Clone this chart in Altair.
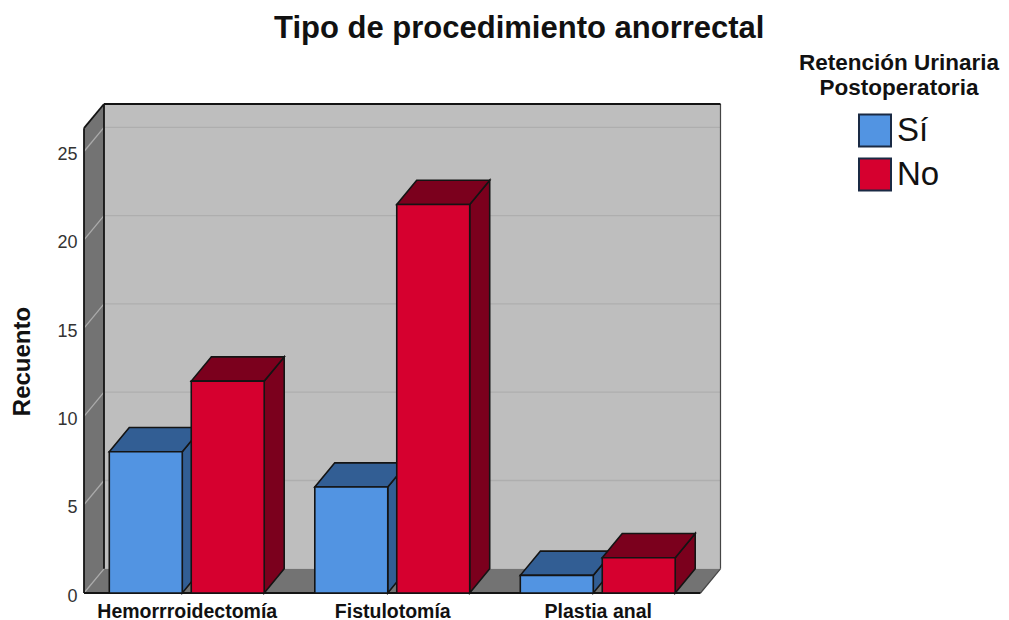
import altair as alt
import pandas as pd

categories = ["Hemorrroidectomía", "Fistulotomía", "Plastia anal"]
series = ["Sí", "No"]
si_values = [8, 6, 1]
no_values = [12, 22, 2]
y_ticks = [0, 5, 10, 15, 20, 25]

front_colors = ["#5294E2", "#D6002F"]
dark_colors = ["#325E94", "#7B001D"]
EDGE = "#141414"

# 3D geometry in data units
DX = 0.0973      # depth along category axis
DY = 1.37        # depth along count axis
BAR = 0.355      # bar width
GAP = 0.0438     # gap between the two bars
X0, X1 = -0.5, 2.5
TOP = 26.32
XS = alt.Scale(domain=[X0, X1 + DX], nice=False, zero=False)
YS = alt.Scale(domain=[0, TOP + DY], nice=False, zero=False)
x_axis = alt.Axis(
    values=[0, 1, 2],
    labelExpr="[" + ",".join(f"'{c}'" for c in categories) + "][datum.value]",
    title=None, domain=False, ticks=False, grid=False,
    labelFont="Liberation Sans", labelFontSize=19.5, labelFontWeight="bold",
    labelColor="#111111", labelPadding=18, labelBaseline="middle", labelAngle=0,
)
y_axis = alt.Axis(
    values=y_ticks, title="Recuento", domain=False, ticks=False, grid=False,
    labelFont="Liberation Sans", labelFontSize=18, labelColor="#333333",
    labelPadding=7, labelOffset=3,
    titleFont="Liberation Sans", titleFontSize=24, titleFontWeight="bold",
    titleColor="#111111", titleX=-50, titleY=257, titleAnchor="middle",
    titleAlign="center",
)


def X(field="x"):
    return alt.X(f"{field}:Q", scale=XS, axis=x_axis, title=None)


def Y(field="y"):
    return alt.Y(f"{field}:Q", scale=YS, axis=y_axis, title="Recuento")


def rules(rows, color, width):
    df = pd.DataFrame(rows, columns=["x", "x2", "y", "y2"])
    return alt.Chart(df).mark_rule(color=color, strokeWidth=width).encode(
        x=X(), x2="x2:Q", y=Y(), y2="y2:Q"
    )


# Walls and floor
wall = alt.Chart(pd.DataFrame([{"x": X0 + DX, "x2": X1 + DX, "y": DY, "y2": TOP + DY}])).mark_rect(
    color="#BEBEBE").encode(x=X(), x2="x2:Q", y=Y(), y2="y2:Q")
left_wall = alt.Chart(pd.DataFrame([
    {"x": X0, "y": 0, "y2": TOP},
    {"x": X0 + DX, "y": DY, "y2": TOP + DY},
])).mark_area(color="#737373").encode(x=X(), y=Y(), y2="y2:Q")
floor = alt.Chart(pd.DataFrame([
    {"y": 0, "x": X0, "x2": X1},
    {"y": DY, "x": X0 + DX, "x2": X1 + DX},
])).mark_area(color="#737373", orient="horizontal").encode(y=Y(), x=X(), x2="x2:Q")

grid_back = rules([[X0 + DX, X1 + DX, v + DY, v + DY] for v in y_ticks[1:]], "#AEAEAE", 1.3)
grid_side = rules([[X0, X0 + DX, v, v + DY] for v in y_ticks], "#ABABAB", 1.3)

edges_dark = rules([
    [X0 + DX, X1 + DX, TOP + DY, TOP + DY],
    [X0 + DX, X0 + DX, DY, TOP + DY],
    [X0, X0 + DX, TOP, TOP + DY],
    [X0, X0, 0, TOP],
    [X0, X1, 0, 0],
], EDGE, 1.8)
edges_soft = rules([
    [X1 + DX, X1 + DX, DY, TOP + DY],
    [X1, X1 + DX, 0, DY],
], "#444444", 1.2)

layers = [wall, left_wall, floor, grid_back, grid_side, edges_soft, edges_dark]

# Bars
for s, (name, values) in enumerate(zip(series, [si_values, no_values])):
    side_rows, top_rows, front_rows = [], [], []
    for i, v in enumerate(values):
        left = i - GAP / 2 - BAR if s == 0 else i + GAP / 2
        right = left + BAR
        front_rows.append({"x": left, "x2": right, "y": 0, "y2": v, "serie": name})
        side_rows += [
            {"poly": i, "x": right, "y": 0, "y2": v},
            {"poly": i, "x": right + DX, "y": DY, "y2": v + DY},
        ]
        top_rows += [
            {"poly": i, "y": v, "x": left, "x2": right},
            {"poly": i, "y": v + DY, "x": left + DX, "x2": right + DX},
        ]
    side = alt.Chart(pd.DataFrame(side_rows)).mark_area(
        color=dark_colors[s], stroke=EDGE, strokeWidth=1.6
    ).encode(x=X(), y=Y(), y2="y2:Q", detail="poly:N")
    top = alt.Chart(pd.DataFrame(top_rows)).mark_area(
        color=dark_colors[s], stroke=EDGE, strokeWidth=1.6, orient="horizontal"
    ).encode(y=Y(), x=X(), x2="x2:Q", detail="poly:N")
    front = alt.Chart(pd.DataFrame(front_rows)).mark_rect(
        stroke=EDGE, strokeWidth=1.6
    ).encode(
        x=X(), x2="x2:Q", y=Y(), y2="y2:Q",
        color=alt.Color(
            "serie:N",
            scale=alt.Scale(domain=series, range=front_colors),
            sort=series,
            legend=alt.Legend(
                title=["Retención Urinaria", "Postoperatoria"],
                orient="none", legendX=715, legendY=-52,
                titleFont="Liberation Sans", titleFontSize=22.5, titleFontWeight="bold",
                titleColor="#111111", titleAnchor="middle", titleAlign="center",
                titleLineHeight=25, titlePadding=14, titleLimit=400,
                labelFont="Liberation Sans", labelFontSize=33, labelColor="#111111",
                labelOffset=5,
                symbolType="square", symbolSize=1024, symbolStrokeColor="#1A2A44",
                symbolStrokeWidth=2, symbolOpacity=1, rowPadding=4,
            ),
        ),
    )
    layers += [side, top, front]

chart = alt.layer(*layers).properties(
    width=636.5,
    height=489,
    padding={"left": 76, "top": 96, "right": 280, "bottom": 27},
    autosize=alt.AutoSizeParams(type="none"),
    background="white",
    title=alt.TitleParams(
        "Tipo de procedimiento anorrectal",
        font="Liberation Sans", fontSize=31, fontWeight="bold", color="#111111",
        anchor="middle", frame="group", dx=117, offset=7,
    ),
).configure_view(stroke=None)

chart.save("out.html", embed_options={"renderer": "svg", "actions": False})
